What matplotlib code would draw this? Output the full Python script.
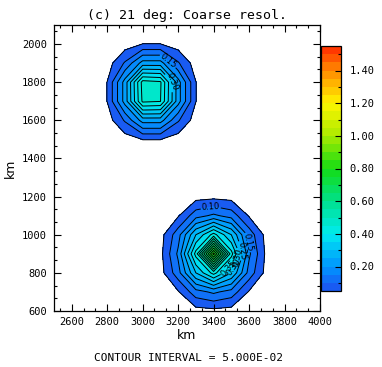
import numpy as np
import matplotlib
matplotlib.use("Agg")
import matplotlib.pyplot as plt
from matplotlib.colors import LinearSegmentedColormap
from matplotlib.ticker import MultipleLocator, FixedLocator

# ---- data ----
x_grid = np.arange(2500, 4001, 100)
y_grid = np.arange(600, 2101, 100)

x_upper = [2800, 2900, 3000, 3100, 3200, 3300]
y_upper = [1500, 1600, 1700, 1800, 1900, 2000]
z_upper = [
    [0.006, 0.025, 0.051, 0.051, 0.025, 0.006],
    [0.025, 0.106, 0.221, 0.221, 0.106, 0.025],
    [0.051, 0.221, 0.460, 0.452, 0.221, 0.051],
    [0.051, 0.221, 0.470, 0.458, 0.221, 0.051],
    [0.025, 0.106, 0.221, 0.221, 0.106, 0.025],
    [0.006, 0.025, 0.051, 0.051, 0.025, 0.006],
]

x_lower = [3100, 3200, 3300, 3400, 3500, 3600, 3700]
y_lower = [600, 700, 800, 900, 1000, 1100, 1200]
z_lower = [
    [0.003, 0.015, 0.030, 0.035, 0.030, 0.015, 0.003],
    [0.015, 0.045, 0.130, 0.160, 0.130, 0.045, 0.015],
    [0.030, 0.130, 0.300, 0.420, 0.300, 0.130, 0.030],
    [0.035, 0.160, 0.420, 0.820, 0.420, 0.160, 0.035],
    [0.030, 0.130, 0.300, 0.420, 0.300, 0.130, 0.030],
    [0.015, 0.045, 0.130, 0.160, 0.130, 0.045, 0.015],
    [0.003, 0.015, 0.030, 0.035, 0.030, 0.015, 0.003],
]

levels = np.round(np.arange(0.05, 1.5501, 0.05), 2)
label_levels = [0.10, 0.15, 0.20, 0.25, 0.30, 0.35]
cbar_ticks = [0.2, 0.4, 0.6, 0.8, 1.0, 1.2, 1.4]
x_ticks = [2600, 2800, 3000, 3200, 3400, 3600, 3800, 4000]
y_ticks = [600, 800, 1000, 1200, 1400, 1600, 1800, 2000]

# ---- build field ----
Z = np.zeros((len(y_grid), len(x_grid)))
for xs, ys, zs in ((x_upper, y_upper, z_upper), (x_lower, y_lower, z_lower)):
    xi = [int(np.where(x_grid == v)[0][0]) for v in xs]
    yi = [int(np.where(y_grid == v)[0][0]) for v in ys]
    for r, j in enumerate(yi):
        for c, i in enumerate(xi):
            Z[j, i] = zs[r][c]

cmap = LinearSegmentedColormap.from_list("ferret", [
    (0.0, (30/255, 80/255, 240/255)),
    (0.1, (0/255, 150/255, 255/255)),
    (0.233, (0/255, 235/255, 240/255)),
    (0.367, (0/255, 225/255, 140/255)),
    (0.5, (20/255, 220/255, 20/255)),
    (0.633, (170/255, 235/255, 0/255)),
    (0.767, (255/255, 245/255, 0/255)),
    (0.9, (255/255, 140/255, 0/255)),
    (1.0, (255/255, 40/255, 0/255)),
])

fig = plt.figure(figsize=(3.82, 3.67), dpi=100)
W, H = 382, 367
ax = fig.add_axes([54/W, 1-311/H, 266/W, 286/H])

cf = ax.contourf(x_grid, y_grid, Z, levels=levels, cmap=cmap)
plain_levels = [v for v in levels if not any(abs(v - l) < 1e-6 for l in label_levels)]
ax.contour(x_grid, y_grid, Z, levels=plain_levels, colors='black', linewidths=0.7)
cs_lab = ax.contour(x_grid, y_grid, Z, levels=label_levels, colors='black', linewidths=0.7)
ax.clabel(cs_lab, fmt='%.2f', fontsize=6, inline=True, inline_spacing=1,
          manual=[(3150, 1920), (3165, 1800), (3385, 1140), (3590, 960),
                  (3560, 915), (3540, 880), (3520, 845), (3495, 815)])

ax.set_xlim(2500, 4000)
ax.set_ylim(600, 2100)
ax.xaxis.set_major_locator(FixedLocator(x_ticks))
ax.yaxis.set_major_locator(FixedLocator(y_ticks))
ax.xaxis.set_minor_locator(MultipleLocator(200/3))
ax.yaxis.set_minor_locator(MultipleLocator(200/3))
ax.tick_params(which='both', direction='in', top=True, right=True, width=0.8)
ax.tick_params(which='major', length=5)
ax.tick_params(which='minor', length=2.5)
mono = 'DejaVu Sans Mono'
for t in ax.get_xticklabels() + ax.get_yticklabels():
    t.set_fontfamily(mono)
    t.set_fontsize(7.5)
ax.tick_params(axis='x', pad=4)
ax.tick_params(axis='y', pad=5)
for s in ax.spines.values():
    s.set_linewidth(0.9)

ax.set_xlabel('km', fontsize=9, labelpad=2)
ax.set_ylabel('km', fontsize=9, labelpad=4)

cax = fig.add_axes([321/W, 1-291/H, 20/W, 245/H])
cb = fig.colorbar(cf, cax=cax)
cb.set_ticks(cbar_ticks)
cb.set_ticklabels([f'{v:.2f}' for v in cbar_ticks])
cax.yaxis.set_minor_locator(FixedLocator([0.1, 0.3, 0.5, 0.7, 0.9, 1.1, 1.3, 1.5]))
cax.tick_params(which='both', direction='in', right=True, left=False, width=0.8)
cax.tick_params(which='major', length=4, pad=6)
cax.tick_params(which='minor', length=2.5)
for t in cax.get_yticklabels():
    t.set_fontfamily(mono)
    t.set_fontsize(7.5)
cb.outline.set_linewidth(0.9)

fig.text(187/W, 1-15/H, '(c) 21 deg: Coarse resol.', ha='center', va='center',
         family=mono, fontsize=9.5)
fig.text(188/W, 1-358/H, 'CONTOUR INTERVAL = 5.000E-02', ha='center', va='center',
         family=mono, fontsize=8)

fig.savefig('out.png', dpi=100)
